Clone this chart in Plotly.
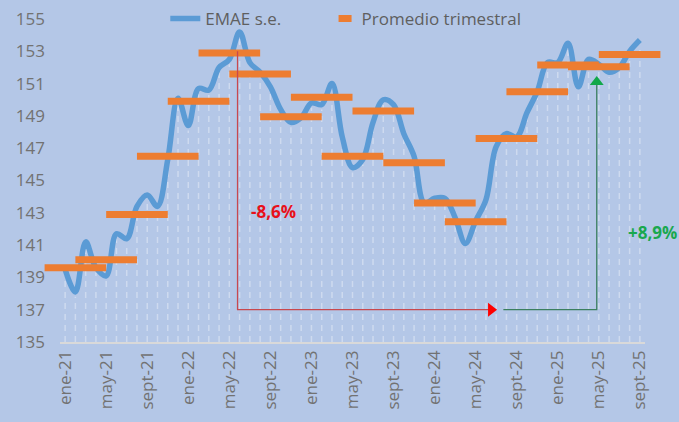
import plotly.graph_objects as go

# EMAE desestacionalizado, ene-21 a sept-25 (indice mensual 0..56)
emae = [139.5, 138.1, 141.2, 139.6, 139.1, 141.7, 141.4, 143.4, 144.1, 143.4,
        146.3, 150.1, 148.4, 150.7, 150.6, 152.0, 152.5, 154.2, 152.3, 151.7,
        150.8, 149.4, 148.6, 148.9, 149.8, 149.7, 151.0, 147.7, 145.8, 146.3,
        148.6, 150.0, 149.7, 147.9, 146.5, 143.6, 143.9, 143.9, 142.7, 141.1,
        142.5, 143.8, 147.1, 147.9, 147.7, 149.2, 150.5, 152.3, 152.3, 153.5,
        150.8, 152.5, 152.2, 151.7, 152.0, 153.0, 153.7]
months = list(range(len(emae)))

# promedio trimestral (centrado en el mes del medio)
prom_trim = [139.6, 140.1, 142.9, 146.5, 149.9, 152.9, 151.6, 148.95, 150.15,
             146.5, 149.3, 146.1, 143.6, 142.45, 147.6, 150.5, 152.15, 152.05, 152.8]
trim_mid = [1 + 3 * i for i in range(len(prom_trim))]

tick_pos = list(range(0, 57, 4))
tick_txt = ["ene-21", "may-21", "sept-21", "ene-22", "may-22", "sept-22", "ene-23",
            "may-23", "sept-23", "ene-24", "may-24", "sept-24", "ene-25", "may-25", "sept-25"]

# flechas de variacion
base_val = 137
red_x, red_top, red_end = 16.8, 153.0, 41.3
green_x0, green_x, green_top = 42.7, 51.8, 151.1

bg = "#B4C7E7"
font = "Open Sans"
nb = "\u00a0"

fig = go.Figure()

# trama de lineas verticales debajo de la serie
dx, dy = [], []
for m, v in zip(months, emae):
    dx += [m, m, None]
    dy += [135, v - 0.3, None]
fig.add_trace(go.Scatter(x=dx, y=dy, mode="lines", showlegend=False, hoverinfo="skip",
                         line=dict(color="rgba(255,255,255,0.35)", width=1.5, dash="6px,5px")))

fig.add_trace(go.Scatter(x=months, y=emae, mode="lines", name="EMAE s.e." + nb * 8,
                         line=dict(color="#5B9BD5", width=5.5, shape="spline", smoothing=1)))

fig.add_trace(go.Scatter(x=trim_mid, y=prom_trim, mode="markers", showlegend=False,
                         cliponaxis=False,
                         marker=dict(symbol="line-ew", size=44,
                                     line=dict(color="#ED7D31", width=7))))
# muestra de leyenda: guion corto
fig.add_trace(go.Scatter(x=[None], y=[None], mode="lines", name="Promedio trimestral",
                         line=dict(color="#ED7D31", width=7, dash="0px,12px,13px,200px")))

# flecha roja
fig.add_trace(go.Scatter(x=[red_x, red_x, red_end], y=[red_top, base_val, base_val], mode="lines",
                         showlegend=False, hoverinfo="skip", line=dict(color="#C8484F", width=1.3)))
fig.add_trace(go.Scatter(x=[red_end + 0.2], y=[base_val], mode="markers", showlegend=False,
                         hoverinfo="skip", marker=dict(symbol="triangle-right", size=12, color="#FF0000")))
# flecha verde
fig.add_trace(go.Scatter(x=[green_x0, green_x, green_x], y=[base_val, base_val, green_top], mode="lines",
                         showlegend=False, hoverinfo="skip", line=dict(color="#3B7F5F", width=1.3)))
fig.add_trace(go.Scatter(x=[green_x], y=[green_top], mode="markers", showlegend=False,
                         hoverinfo="skip", marker=dict(symbol="triangle-up", size=12, color="#12A84A")))

fig.add_annotation(x=20.3, y=143.1, text="<b>-8,6%</b>", showarrow=False,
                   font=dict(family=font, size=17, color="#E8101A"))
fig.add_annotation(x=1.012, xref="paper", xanchor="center", y=141.8, text="<b>+8,9%</b>",
                   showarrow=False, font=dict(family=font, size=17, color="#19A84E"))

fig.update_layout(
    width=679, height=422,
    paper_bgcolor=bg, plot_bgcolor=bg,
    margin=dict(l=60, r=34, t=19, b=80, autoexpand=False),
    font=dict(family=font, size=17, color="#6E6E6E"),
    showlegend=True,
    hovermode=False,
    legend=dict(orientation="h", x=0.18, xanchor="left", y=1.0, yanchor="middle",
                bgcolor="rgba(0,0,0,0)", font=dict(size=17, color="#5F5F5F")),
)
fig.update_xaxes(range=[-0.5, 56.5], tickvals=tick_pos, ticktext=tick_txt, tickangle=-90,
                 showgrid=False, zeroline=False, showline=True, linecolor="#D9D9D9", linewidth=1.5,
                 ticks="", tickfont=dict(size=17, color="#727272"))
fig.update_yaxes(range=[135, 155], tick0=135, dtick=2, showgrid=False, zeroline=False,
                 showline=False, ticks="", ticklabelstandoff=14,
                 tickfont=dict(size=17, color="#727272"))

fig.write_html("out.html", config={"displayModeBar": False},
               post_script="document.body.style.margin='0';")
